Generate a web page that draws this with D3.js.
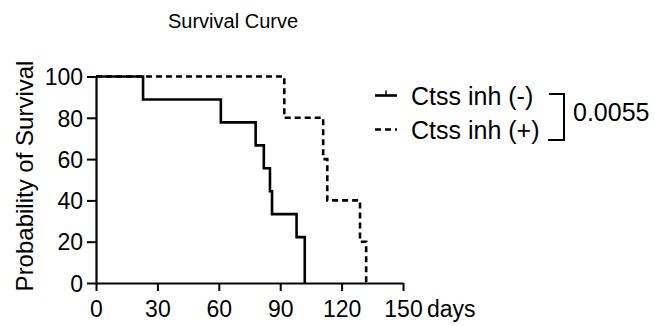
<!DOCTYPE html>
<html>
<head>
<meta charset="utf-8">
<script src="https://cdn.jsdelivr.net/npm/d3@7"></script>
<style>
body { margin: 0; background: #fff; }
text { font-family: "Liberation Sans", Arial, sans-serif; fill: #000; }
</style>
</head>
<body>
<script>
// Kaplan-Meier steps
let negDays = [0, 23, 61, 78, 82, 85, 86, 98, 102];
let negSurv = [100, 88.89, 77.78, 66.67, 55.56, 44.44, 33.33, 22.22, 0];
let posDays = [0, 92, 111, 113, 129, 132];
let posSurv = [100, 80, 60, 40, 20, 0];
let xTicks = [0, 30, 60, 90, 120, 150];
let yTicks = [0, 20, 40, 60, 80, 100];
let seriesNames = ["Ctss inh (-)", "Ctss inh (+)"];
let pValue = "0.0055";

let W = 655, H = 326;
let margin = {top: 76.5, left: 96};
let width = 307, height = 206.5;

let svg = d3.select("body").append("svg")
	.attr("width", W)
	.attr("height", H);

let x = d3.scaleLinear().domain([0, 150]).range([0, width]);
let y = d3.scaleLinear().domain([0, 100]).range([height, 0]);

let g = svg.append("g")
	.attr("transform", "translate(" + margin.left + "," + margin.top + ")");

// axes
let xAxis = g.append("g")
	.attr("transform", "translate(0," + height + ")")
	.call(d3.axisBottom(x).tickValues(xTicks).tickSize(8).tickSizeOuter(0));
let yAxis = g.append("g")
	.call(d3.axisLeft(y).tickValues(yTicks).tickSize(9).tickSizeOuter(0));

[xAxis, yAxis].forEach(function(a){
	a.select(".domain").attr("stroke", "#000").attr("stroke-width", 2.2);
	a.selectAll(".tick line").attr("stroke", "#000").attr("stroke-width", 2);
	a.selectAll("text").style("font-family", "Liberation Sans, Arial, sans-serif").style("font-size", "23px").attr("fill", "#000");
});
xAxis.selectAll("text").attr("y", 34).attr("dy", 0);
yAxis.selectAll("text").attr("x", -13).attr("dy", "0.36em");

// curves
let step = d3.line()
	.x(function(d) { return x(d[0]); })
	.y(function(d) { return y(d[1]); })
	.curve(d3.curveStepAfter);

function pts(days, surv) {
	return days.map(function(d, i) { return [d, surv[i]]; });
}

g.append("path")
	.datum(pts(posDays, posSurv))
	.attr("d", step)
	.attr("fill", "none")
	.attr("stroke", "#000")
	.attr("stroke-width", 2.6)
	.attr("stroke-dasharray", "6,4");

g.append("path")
	.datum(pts(negDays, negSurv))
	.attr("d", step)
	.attr("fill", "none")
	.attr("stroke", "#000")
	.attr("stroke-width", 2.6);

// axis titles
svg.append("text")
	.attr("x", 427)
	.attr("y", 317)
	.style("font-size", "23px")
	.text("days");

svg.append("text")
	.attr("transform", "translate(33,176) rotate(-90)")
	.attr("text-anchor", "middle")
	.style("font-size", "24px")
	.text("Probability of Survival");

svg.append("text")
	.attr("x", 168)
	.attr("y", 28)
	.style("font-size", "20px")
	.text("Survival Curve");

// legend
let leg = svg.append("g");
let ly = [95.5, 129.5];
leg.append("line").attr("x1", 375).attr("x2", 397).attr("y1", ly[0]).attr("y2", ly[0])
	.attr("stroke", "#000").attr("stroke-width", 2.6);
leg.append("line").attr("x1", 386).attr("x2", 386).attr("y1", ly[0] - 5).attr("y2", ly[0])
	.attr("stroke", "#000").attr("stroke-width", 1.5);
leg.append("line").attr("x1", 375).attr("x2", 397).attr("y1", ly[1]).attr("y2", ly[1])
	.attr("stroke", "#000").attr("stroke-width", 2.6).attr("stroke-dasharray", "6,4");

seriesNames.forEach(function(n, i){
	leg.append("text")
		.attr("x", 411)
		.attr("y", ly[i] + 9)
		.style("font-size", "25px")
		.text(n);
});

// bracket with p value
leg.append("path")
	.attr("d", "M549,94H564V140H548")
	.attr("fill", "none")
	.attr("stroke", "#000")
	.attr("stroke-width", 2);

leg.append("text")
	.attr("x", 573)
	.attr("y", 121)
	.style("font-size", "25px")
	.text(pValue);
</script>
</body>
</html>
